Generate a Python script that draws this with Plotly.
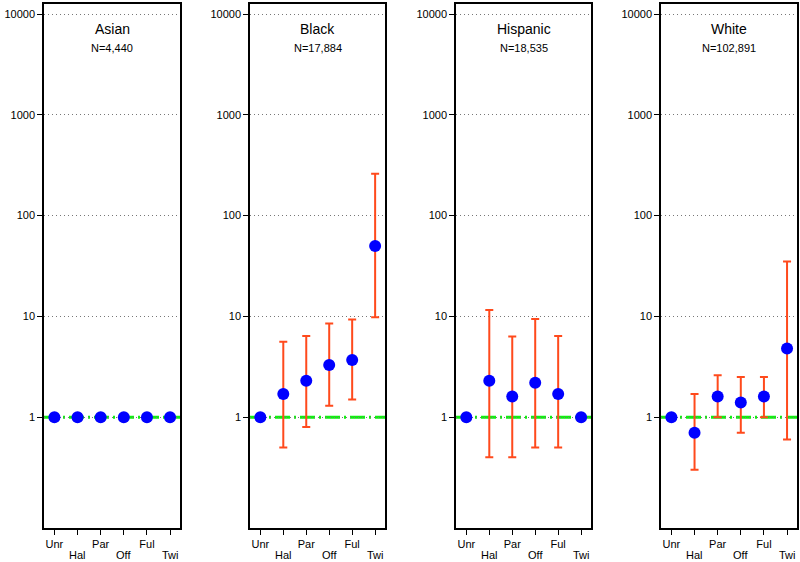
import plotly.graph_objects as go

groups = ["Asian", "Black", "Hispanic", "White"]
n_labels = ["N=4,440", "N=17,884", "N=18,535", "N=102,891"]
categories = ["Unr", "Hal", "Par", "Off", "Ful", "Twi"]
tick_labels = ["Unr", "Hal", "Par", "Off", "Ful", "Twi"]
y_tick_vals = [1, 10, 100, 1000, 10000]
y_tick_text = ["1", "10", "100", "1000", "10000"]

asian_est = [1, 1, 1, 1, 1, 1]
asian_lo = [None, None, None, None, None, None]
asian_hi = [None, None, None, None, None, None]

black_est = [1, 1.7, 2.3, 3.3, 3.7, 50]
black_lo = [None, 0.5, 0.8, 1.3, 1.5, 9.8]
black_hi = [None, 5.6, 6.4, 8.5, 9.3, 260]

hispanic_est = [1, 2.3, 1.6, 2.2, 1.7, 1]
hispanic_lo = [None, 0.4, 0.4, 0.5, 0.5, None]
hispanic_hi = [None, 11.6, 6.3, 9.4, 6.4, None]

white_est = [1, 0.7, 1.6, 1.4, 1.6, 4.8]
white_lo = [None, 0.3, 1.0, 0.7, 1.0, 0.6]
white_hi = [None, 1.7, 2.6, 2.5, 2.5, 35]

est_all = [asian_est, black_est, hispanic_est, white_est]
lo_all = [asian_lo, black_lo, hispanic_lo, white_lo]
hi_all = [asian_hi, black_hi, hispanic_hi, white_hi]

W, H = 800, 562
x_domains_px = [(44, 180), (250, 385), (456, 591), (661, 797)]
y_top_px, y_bot_px = 4, 528

FONT = "Liberation Sans, Arial, Helvetica, sans-serif"
ERR_COLOR = "#ff4a1c"

# first row of tick labels shown by the axis; second row drawn as annotations
row1_text = [t if k % 2 == 0 else "" for k, t in enumerate(tick_labels)]

fig = go.Figure()
annotations = []
shapes = []
for i, g in enumerate(groups):
    est = est_all[i]
    plus = [(h - e) if h is not None else None for e, h in zip(est, hi_all[i])]
    minus = [(e - l) if l is not None else None for e, l in zip(est, lo_all[i])]
    ax = "" if i == 0 else str(i + 1)
    fig.add_trace(go.Scatter(
        x=categories, y=est, mode="markers",
        marker=dict(color="#0000ff", size=12, line=dict(width=0)),
        error_y=dict(type="data", symmetric=False, array=plus, arrayminus=minus,
                     color=ERR_COLOR, thickness=2, width=4),
        xaxis="x" + ax, yaxis="y" + ax, showlegend=False, cliponaxis=False,
        hoverinfo="skip",
    ))
    x0, x1 = x_domains_px[i]
    dom = [x0 / W, x1 / W]
    common = dict(
        showline=True, linecolor="black", linewidth=1.5, mirror=True,
        ticks="outside", ticklen=5, tickwidth=1, tickcolor="black",
        tickfont=dict(family=FONT, size=11, color="black"),
        zeroline=False, automargin=False,
    )
    fig.update_layout(**{
        "xaxis" + ax: dict(
            domain=dom, anchor="y" + ax, type="category",
            categoryorder="array", categoryarray=categories,
            range=[-0.45, 5.43], tickmode="array", tickvals=categories,
            ticktext=row1_text, showgrid=False, **common),
        "yaxis" + ax: dict(
            domain=[1 - y_bot_px / H, 1 - y_top_px / H], anchor="x" + ax,
            type="log", range=[-1.1, 4.1], tickmode="array",
            tickvals=y_tick_vals, ticktext=y_tick_text,
            showgrid=True, gridcolor="#777777", gridwidth=1, griddash="1px,3px",
            **common),
    })
    for k, (cat, lab) in enumerate(zip(categories, tick_labels)):
        if k % 2 == 1:
            annotations.append(dict(
                x=cat, xref="x" + ax, y=1 - 555 / H, yref="paper", text=lab,
                showarrow=False, xanchor="center", yanchor="middle",
                font=dict(family=FONT, size=11, color="black")))
    shapes.append(dict(
        type="line", xref="x" + ax + " domain", yref="y" + ax,
        x0=0, x1=1, y0=1, y1=1, layer="below",
        line=dict(color="#11ee11", width=3, dash="15px,4px,2px,4px"),
    ))
    cx = (dom[0] + dom[1]) / 2
    annotations.append(dict(
        x=cx, y=1 - 29 / H, xref="paper", yref="paper", text=g, showarrow=False,
        font=dict(family=FONT, size=14, color="black"), yanchor="middle",
        xanchor="center"))
    annotations.append(dict(
        x=cx, y=1 - 48 / H, xref="paper", yref="paper", text=n_labels[i],
        showarrow=False, font=dict(family=FONT, size=11, color="black"),
        yanchor="middle", xanchor="center"))

fig.update_layout(
    width=W, height=H, margin=dict(l=0, r=0, t=0, b=0, autoexpand=False),
    paper_bgcolor="white", plot_bgcolor="white",
    annotations=annotations, shapes=shapes, template="none",
    font=dict(family=FONT, color="black"),
)
fig.write_html(
    "out.html",
    config={"displayModeBar": False},
    post_script="document.body.style.margin='0';document.body.style.overflow='hidden';",
)
